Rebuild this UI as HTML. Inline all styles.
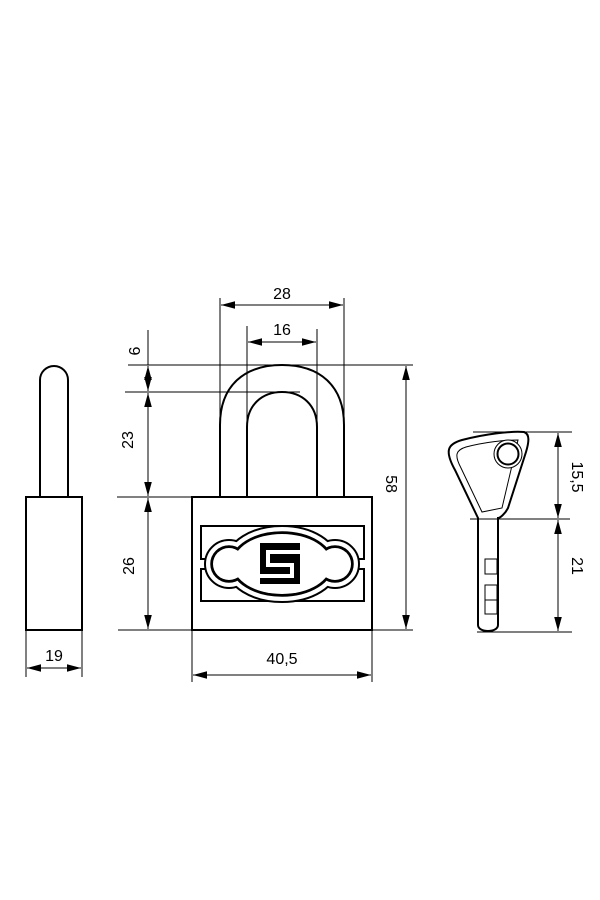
<!DOCTYPE html>
<html><head><style>body{margin:0;background:#fff}svg{display:block}</style></head><body>
<svg width="600" height="900" viewBox="0 0 600 900" xmlns="http://www.w3.org/2000/svg" font-family="Liberation Sans, sans-serif" font-size="16">
<defs>
<marker id="a" viewBox="0 0 14 10" refX="14" refY="5" markerWidth="14" markerHeight="10" markerUnits="userSpaceOnUse" orient="auto-start-reverse"><path d="M0,1.2 L14,5 L0,8.8z" fill="#000"/></marker>
</defs>
<g fill="none" stroke="#000">
<!-- side view -->
<rect x="26" y="497" width="56" height="133" stroke-width="2"/>
<path d="M40,497 V380 A14,14 0 0 1 68,380 V497" stroke-width="2"/>
<g stroke-width="1">
<line x1="26" y1="630" x2="26" y2="677"/><line x1="82" y1="630" x2="82" y2="677"/>
<line x1="27" y1="668" x2="81" y2="668" marker-start="url(#a)" marker-end="url(#a)"/>
<line x1="148" y1="330" x2="148" y2="365"/>
<line x1="128" y1="365" x2="413" y2="365"/>
<line x1="125" y1="392" x2="300" y2="392"/>
<line x1="117" y1="497" x2="192" y2="497"/>
<line x1="118" y1="630" x2="413" y2="630"/>
<line x1="148" y1="366" x2="148" y2="391" marker-start="url(#a)" marker-end="url(#a)"/>
<line x1="148" y1="393" x2="148" y2="496" marker-start="url(#a)" marker-end="url(#a)"/>
<line x1="148" y1="498" x2="148" y2="629" marker-start="url(#a)" marker-end="url(#a)"/>
<line x1="220" y1="298" x2="220" y2="497"/><line x1="344" y1="298" x2="344" y2="497"/>
<line x1="247" y1="326" x2="247" y2="497"/><line x1="317" y1="329" x2="317" y2="497"/>
<line x1="221" y1="305" x2="343" y2="305" marker-start="url(#a)" marker-end="url(#a)"/>
<line x1="248" y1="342" x2="316" y2="342" marker-start="url(#a)" marker-end="url(#a)"/>
<line x1="406" y1="366" x2="406" y2="629" marker-start="url(#a)" marker-end="url(#a)"/>
<line x1="192" y1="630" x2="192" y2="682"/><line x1="372" y1="630" x2="372" y2="682"/>
<line x1="193" y1="675" x2="371" y2="675" marker-start="url(#a)" marker-end="url(#a)"/>
</g>
<path d="M220,497 V425 C220,385 245,365 282,365 C319,365 344,385 344,425 V497" stroke-width="2"/>
<path d="M247,497 V427 C247,405 262,392 282,392 C302,392 317,405 317,427 V497" stroke-width="2"/>
<rect x="192" y="497" width="180" height="133" stroke-width="2" fill="#fff"/>
<rect x="201" y="526" width="163" height="33" stroke-width="2"/>
<rect x="201" y="569" width="163" height="32" stroke-width="2"/>
<g stroke="#000" stroke-width="16"><ellipse cx="282" cy="564" rx="50" ry="31"/><circle cx="229" cy="564" r="17"/><circle cx="335" cy="564" r="17"/></g>
<g stroke="#fff" stroke-width="12" fill="#fff"><ellipse cx="282" cy="564" rx="50" ry="31"/><circle cx="229" cy="564" r="17"/><circle cx="335" cy="564" r="17"/></g>
<g stroke="#000" stroke-width="3.5"><ellipse cx="282" cy="564" rx="50" ry="31"/><circle cx="229" cy="564" r="17"/><circle cx="335" cy="564" r="17"/></g>
<g stroke="none" fill="#fff"><ellipse cx="282" cy="564" rx="49" ry="30"/><circle cx="229" cy="564" r="16"/><circle cx="335" cy="564" r="16"/></g>
<rect x="260" y="543" width="40" height="41" fill="#000" stroke="none"/>
<polyline points="301,552 268,552 268,565 292,565 292,576 259,576" stroke="#fff" stroke-width="4"/>
<!-- key -->
<path d="M478,518 L455,470 C444,450 448,444 462,440 C485,434 510,431 524,432 C530,434 529,442 526,452 L508,508 C505,514 500,518 498,518 V625 C498,633 478,633 478,625 Z" stroke-width="2" fill="#fff"/>
<path d="M482,512 L461,468 C454,455 456,450 466,447 C485,442 505,440 518,440 L502,508 Z" stroke-width="1"/>
<circle cx="508" cy="454" r="14" stroke-width="1" fill="#fff"/>
<circle cx="508" cy="454" r="10.5" stroke-width="2"/>
<g stroke-width="1"><rect x="485" y="559" width="12" height="15"/><rect x="485" y="585" width="12" height="15"/><rect x="485" y="600" width="12" height="14"/>
<line x1="473" y1="432" x2="572" y2="432"/><line x1="470" y1="519" x2="570" y2="519"/><line x1="477" y1="632" x2="572" y2="632"/>
<line x1="558" y1="433" x2="558" y2="518" marker-start="url(#a)" marker-end="url(#a)"/>
<line x1="558" y1="520" x2="558" y2="631" marker-start="url(#a)" marker-end="url(#a)"/>
</g>
</g>
<g fill="#000" text-anchor="middle">
<text x="54" y="661">19</text>
<text x="282" y="299">28</text>
<text x="282" y="335">16</text>
<text x="282" y="664">40,5</text>
<text transform="translate(140,351) rotate(-90)">6</text>
<text transform="translate(133,440) rotate(-90)">23</text>
<text transform="translate(134,566) rotate(-90)">26</text>
<text transform="translate(386,484) rotate(90)">58</text>
<text transform="translate(572,477) rotate(90)">15,5</text>
<text transform="translate(572,566) rotate(90)">21</text>
</g>
</svg>
</body></html>
